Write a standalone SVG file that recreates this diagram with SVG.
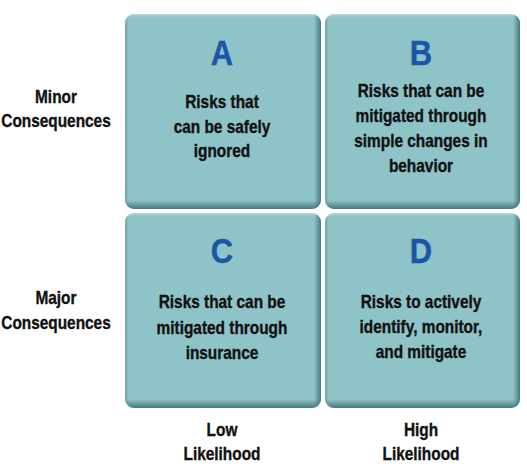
<svg xmlns="http://www.w3.org/2000/svg" width="527" height="476" viewBox="0 0 527 476">
<defs>
<linearGradient id="gv" x1="0" y1="0" x2="0" y2="1">
<stop offset="0" stop-color="#c4e2e4" stop-opacity="0.8"/>
<stop offset="0.025" stop-color="#8ec3c8" stop-opacity="0"/>
<stop offset="0.955" stop-color="#3f6e73" stop-opacity="0"/>
<stop offset="1" stop-color="#3c6a6f" stop-opacity="0.85"/>
</linearGradient>
<linearGradient id="gh" x1="0" y1="0" x2="1" y2="0">
<stop offset="0" stop-color="#4f8086" stop-opacity="0.45"/>
<stop offset="0.02" stop-color="#4f8086" stop-opacity="0"/>
<stop offset="0.965" stop-color="#3c6a6f" stop-opacity="0"/>
<stop offset="1" stop-color="#3c6a6f" stop-opacity="0.85"/>
</linearGradient>
</defs>
<style>
.box{fill:#8ec3c8}
.gv{fill:url(#gv)}
.gh{fill:url(#gh)}
text{font-family:"Liberation Sans",Arial,sans-serif;font-weight:bold;text-anchor:middle}
.let{font-size:36px;fill:#1b56a6;stroke:#1b56a6;stroke-width:0.4px}
.t{font-size:17.5px;fill:#111;stroke:#111;stroke-width:0.35px}
</style>
<rect width="527" height="476" fill="#ffffff"/>
<g id="boxA">
<rect class="box" x="125" y="14" width="196" height="195" rx="9"/>
<rect class="gv" x="125" y="14" width="196" height="195" rx="9"/>
<rect class="gh" x="125" y="14" width="196" height="195" rx="9"/>
<g transform="scale(0.86,1)">
<text class="let" x="258.14" y="65">A</text>
</g>
<g transform="scale(0.88,1)">
<text class="t" x="252.27" y="108">Risks that</text>
<text class="t" x="252.27" y="133">can be safely</text>
<text class="t" x="252.27" y="157">ignored</text>
</g>
</g>
<g id="boxB">
<rect class="box" x="325" y="14" width="195" height="195" rx="9"/>
<rect class="gv" x="325" y="14" width="195" height="195" rx="9"/>
<rect class="gh" x="325" y="14" width="195" height="195" rx="9"/>
<g transform="scale(0.86,1)">
<text class="let" x="489.53" y="65">B</text>
</g>
<g transform="scale(0.88,1)">
<text class="t" x="478.41" y="97">Risks that can be</text>
<text class="t" x="478.41" y="122">mitigated through</text>
<text class="t" x="478.41" y="147">simple changes in</text>
<text class="t" x="478.41" y="172">behavior</text>
</g>
</g>
<g id="boxC">
<rect class="box" x="125" y="213" width="196" height="195" rx="9"/>
<rect class="gv" x="125" y="213" width="196" height="195" rx="9"/>
<rect class="gh" x="125" y="213" width="196" height="195" rx="9"/>
<g transform="scale(0.86,1)">
<text class="let" x="258.14" y="263">C</text>
</g>
<g transform="scale(0.88,1)">
<text class="t" x="252.27" y="308">Risks that can be</text>
<text class="t" x="252.27" y="334">mitigated through</text>
<text class="t" x="252.27" y="359">insurance</text>
</g>
</g>
<g id="boxD">
<rect class="box" x="325" y="213" width="195" height="195" rx="9"/>
<rect class="gv" x="325" y="213" width="195" height="195" rx="9"/>
<rect class="gh" x="325" y="213" width="195" height="195" rx="9"/>
<g transform="scale(0.86,1)">
<text class="let" x="489.53" y="263">D</text>
</g>
<g transform="scale(0.88,1)">
<text class="t" x="478.41" y="308">Risks to actively</text>
<text class="t" x="478.41" y="333">identify, monitor,</text>
<text class="t" x="478.41" y="358">and mitigate</text>
</g>
</g>
<g id="rowMinor" transform="scale(0.88,1)">
<text class="t" x="63.64" y="103">Minor</text>
<text class="t" x="63.64" y="127">Consequences</text>
</g>
<g id="rowMajor" transform="scale(0.88,1)">
<text class="t" x="63.64" y="304">Major</text>
<text class="t" x="63.64" y="329">Consequences</text>
</g>
<g id="colLow" transform="scale(0.88,1)">
<text class="t" x="252.27" y="436">Low</text>
<text class="t" x="252.27" y="460">Likelihood</text>
</g>
<g id="colHigh" transform="scale(0.88,1)">
<text class="t" x="478.41" y="436">High</text>
<text class="t" x="478.41" y="460">Likelihood</text>
</g>
</svg>
